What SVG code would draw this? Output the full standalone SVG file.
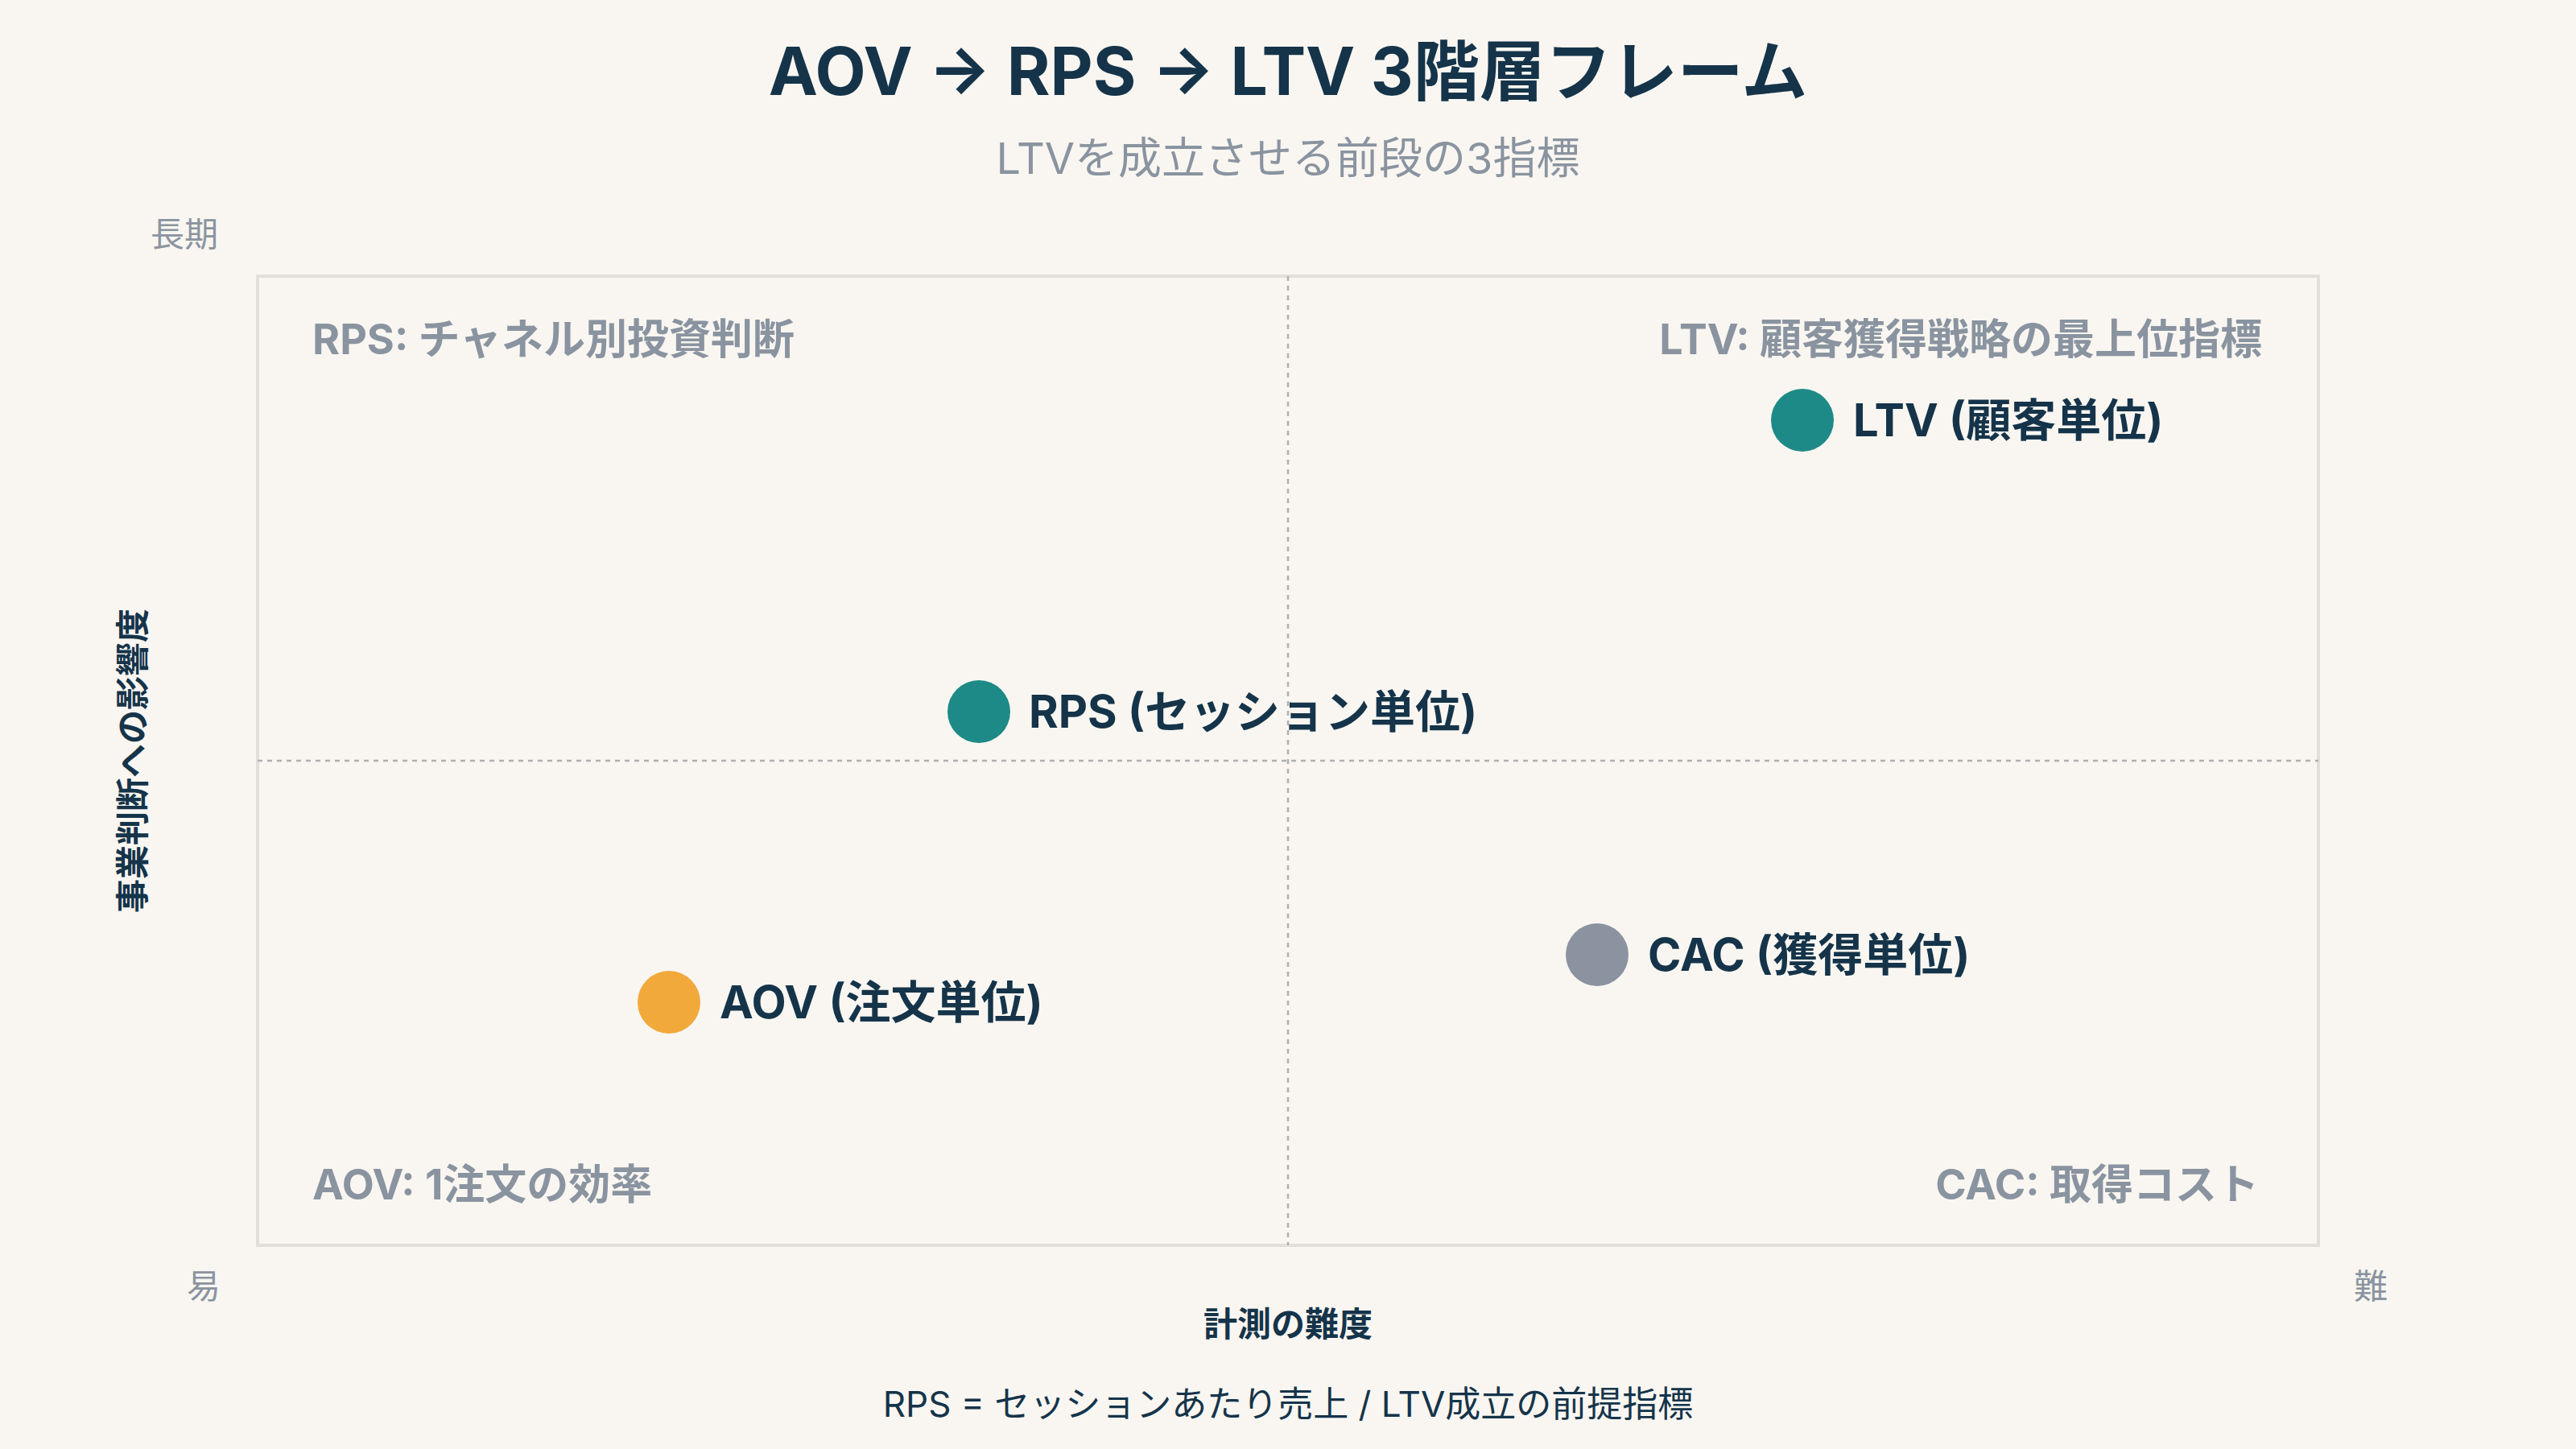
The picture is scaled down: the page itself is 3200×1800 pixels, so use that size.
<svg xmlns="http://www.w3.org/2000/svg" width="3200" height="1800" viewBox="0 0 3200 1800">
<style>
text{font-family:Inter,"Noto Sans CJK JP","Noto Sans",sans-serif}
.t{fill:#15344a;font-weight:700}
.q{fill:#8a94a0;font-weight:700;font-size:52px}
.ax{fill:#8a94a0;font-size:42px}
.pl{fill:#15344a;font-weight:700;font-size:56px}
.grid{stroke:#b0b0b0;stroke-width:2.5;stroke-dasharray:6 6;fill:none}
</style>
<rect width="3200" height="1800" fill="#f9f6f1"/>
<text class="t" x="1600" y="118" text-anchor="middle" font-size="82">AOV → RPS → LTV 3階層フレーム</text>
<text x="1600" y="216" text-anchor="middle" font-size="54" fill="#8a94a0">LTVを成立させる前段の3指標</text>
<rect x="320" y="343" width="2560" height="1204" fill="none" stroke="#e2dfdb" stroke-width="4"/>
<g id="connectors">
<line class="grid" x1="1600" y1="343" x2="1600" y2="1547"/>
<line class="grid" x1="320" y1="945" x2="2880" y2="945"/>
</g>
<text class="ax" x="229" y="306" text-anchor="middle">長期</text>
<text class="ax" x="253" y="1613" text-anchor="middle">易</text>
<text class="ax" x="2945" y="1613" text-anchor="middle">難</text>
<text class="t" x="1600" y="1660" text-anchor="middle" font-size="42">計測の難度</text>
<text class="t" transform="translate(180,945) rotate(-90)" text-anchor="middle" font-size="42">事業判断への影響度</text>
<text class="q" x="388" y="440">RPS: チャネル別投資判断</text>
<text class="q" x="2810" y="440" text-anchor="end">LTV: 顧客獲得戦略の最上位指標</text>
<text class="q" x="388" y="1490">AOV: 1注文の効率</text>
<text class="q" x="2806" y="1490" text-anchor="end">CAC: 取得コスト</text>
<g id="ltv"><circle cx="2239" cy="522" r="39" fill="#1e8a87"/><text class="pl" x="2302" y="542">LTV (顧客単位)</text></g>
<g id="rps"><circle cx="1216" cy="884" r="39" fill="#1e8a87"/><text class="pl" x="1278" y="904">RPS (セッション単位)</text></g>
<g id="cac"><circle cx="1984" cy="1186" r="39" fill="#8b93a1"/><text class="pl" x="2047" y="1206">CAC (獲得単位)</text></g>
<g id="aov"><circle cx="831" cy="1245" r="39" fill="#f2a93b"/><text class="pl" x="894" y="1265">AOV (注文単位)</text></g>
<text x="1600" y="1760" text-anchor="middle" font-size="44" fill="#15344a">RPS = セッションあたり売上 / LTV成立の前提指標</text>
</svg>
